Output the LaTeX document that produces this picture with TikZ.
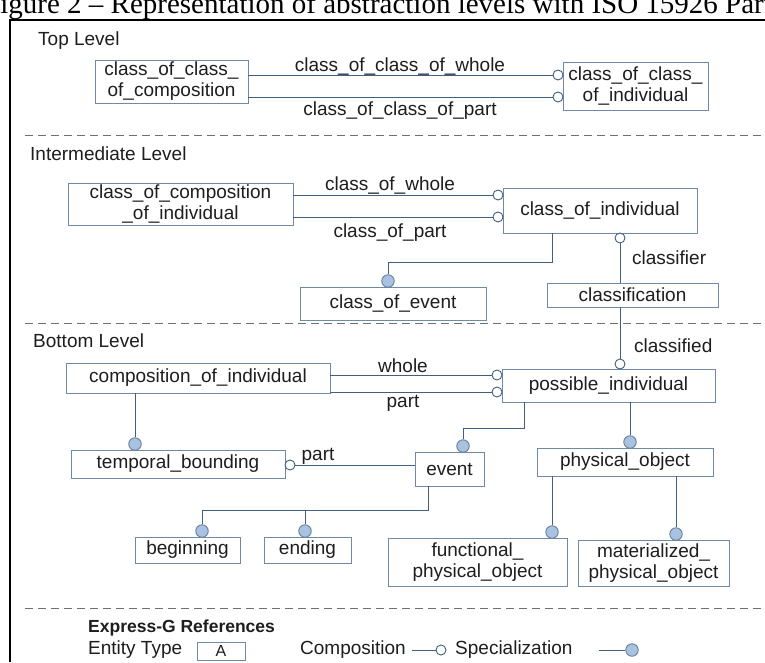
\documentclass[tikz,border=0pt]{standalone}
\usepackage{fontspec}
\setmainfont{Liberation Sans}
\newfontfamily\capfont{Liberation Serif}
\usetikzlibrary{calc}

\definecolor{boxc}{HTML}{6F8AA6}
\definecolor{linec}{HTML}{40607E}
\definecolor{specfill}{HTML}{A9C2E2}
\definecolor{txtc}{HTML}{1E1E1E}
\definecolor{dashc}{HTML}{707070}

\newcommand{\diagfont}{\fontsize{19}{21}\selectfont}

\tikzset{
  ent/.style={draw=boxc, line width=0.9pt, fill=white, inner sep=0pt,
    align=center, font=\diagfont, text=txtc},
  conn/.style={draw=linec, line width=1pt},
  comp/.style={circle, draw=linec, line width=0.9pt, fill=white,
    minimum size=10pt, inner sep=0pt},
  spec/.style={circle, draw=linec!80, line width=0.9pt, fill=specfill,
    minimum size=12.5pt, inner sep=0pt},
  lbl/.style={font=\diagfont, text=txtc, inner sep=0pt},
  level/.style={font=\diagfont, text=txtc, inner sep=0pt, anchor=west},
  sep/.style={draw=dashc, line width=1pt, dash pattern=on 8pt off 5pt},
}

\begin{document}
\begin{tikzpicture}[x=1pt, y=-1pt]
\useasboundingbox (0,0) rectangle (765,662);
\fill[white] (0,0) rectangle (765,662);

% caption above the frame
\node[anchor=base west, inner sep=0pt, font=\capfont\fontsize{29}{31}\selectfont]
  (caption) at (-16,13) {Figure 2 – Representation of abstraction levels with ISO 15926 Part};

% frame
\draw[black, line width=2pt] (765,20) -- (10,20) -- (10,662);

% level separators
\draw[sep] (25,135) -- (765,135);
\draw[sep] (25,323) -- (765,323);
\draw[sep] (25,608) -- (765,608);

% level titles
\node[level] (toplev) at (38,41) {Top Level};
\node[level] (midlev) at (30,154) {Intermediate Level};
\node[level] (botlev) at (33,341) {Bottom Level};

% ---------------- top level ----------------
\node[ent, minimum width=153pt, minimum height=43pt] (ccc) at (171.5,81.5)
  {class\_of\_class\_\\of\_composition};
\node[ent, minimum width=145pt, minimum height=48pt] (cci) at (635.5,86)
  {class\_of\_class\_\\of\_individual};
\node[comp] (tw) at (558,75) {};
\node[comp] (tp) at (558,97) {};
\draw[conn] (ccc.east |- tw) -- (tw);
\draw[conn] (ccc.east |- tp) -- (tp);
\node[lbl] (ltw) at (400,66) {class\_of\_class\_of\_whole};
\node[lbl] (ltp) at (400,111) {class\_of\_class\_of\_part};

% ---------------- intermediate level ----------------
\node[ent, minimum width=225pt, minimum height=42pt] (ccoi) at (180.5,204)
  {class\_of\_composition\\\_of\_individual};
\node[ent, minimum width=194pt, minimum height=45pt] (coi) at (600,210.5)
  {class\_of\_individual};
\node[ent, minimum width=186pt, minimum height=33pt] (coe) at (393,303.5)
  {class\_of\_event};
\node[ent, minimum width=171pt, minimum height=24pt] (cls) at (632.5,295)
  {classification};
\node[comp] (iw) at (498,195) {};
\node[comp] (ip) at (498,217) {};
\draw[conn] (ccoi.east |- iw) -- (iw);
\draw[conn] (ccoi.east |- ip) -- (ip);
\node[lbl] (liw) at (390,185) {class\_of\_whole};
\node[lbl] (lip) at (390,233) {class\_of\_part};

\node[spec] (sce) at (388,281) {};
\draw[conn] ([xshift=50pt]coi.south west) -- ++(0,29) -| (sce);

\node[comp] (cfr) at (620,238) {};
\draw[conn] (cfr) -- (cls.north -| cfr);
\node[lbl, anchor=west] (lcfr) at (632,258) {classifier};

% ---------------- bottom level ----------------
\node[ent, minimum width=264pt, minimum height=30pt] (cmpi) at (198,378)
  {composition\_of\_individual};
\node[ent, minimum width=213pt, minimum height=33pt] (posi) at (608.5,385.5)
  {possible\_individual};
\node[comp] (cfd) at (620,364) {};
\draw[conn] (cls.south -| cfd) -- (cfd);
\node[lbl, anchor=west] (lcfd) at (634,346) {classified};

\node[comp] (bw) at (497,375) {};
\node[comp] (bp) at (497,392) {};
\draw[conn] (cmpi.east |- bw) -- (bw);
\draw[conn] (cmpi.east |- bp) -- (bp);
\node[lbl] (lbw) at (403,366) {whole};
\node[lbl] (lbp) at (403,403) {part};

\node[ent, minimum width=214pt, minimum height=28pt] (tb) at (178,464)
  {temporal\_bounding};
\node[ent, minimum width=69pt, minimum height=34pt] (ev) at (449.5,469)
  {event};
\node[ent, minimum width=176pt, minimum height=28pt] (po) at (625,462)
  {physical\_object};

\node[spec] (stb) at (135,444) {};
\draw[conn] (cmpi.south -| stb) -- (stb);

\node[comp] (tbp) at (290,465) {};
\draw[conn] (ev.west |- tbp) -- (tbp);
\node[lbl] (ltbp) at (318,456) {part};

\node[spec] (sev) at (463,446) {};
\draw[conn] ([xshift=23pt]posi.south west) -- ++(0,26) -| (sev);

\node[spec] (spo) at (630,442) {};
\draw[conn] (posi.south -| spo) -- (spo);

\node[ent, minimum width=105pt, minimum height=26pt] (beg) at (187.5,550)
  {beginning};
\node[ent, minimum width=87pt, minimum height=26pt] (end) at (307.5,550)
  {ending};
\node[ent, minimum width=179pt, minimum height=48pt] (fpo) at (477.5,562)
  {functional\_\\physical\_object};
\node[ent, minimum width=151pt, minimum height=46pt] (mpo) at (653.5,563)
  {materialized\_\\physical\_object};

\node[spec] (sbeg) at (202,531) {};
\node[spec] (send) at (305,531) {};
\coordinate (evj) at (428,510);
\draw[conn] (ev.south -| evj) -- (evj) -| (sbeg);
\draw[conn] (evj -| send) -- (send);

\node[spec] (sfpo) at (552,532) {};
\node[spec] (smpo) at (676,534) {};
\draw[conn] (po.south -| sfpo) -- (sfpo);
\draw[conn] (po.south -| smpo) -- (smpo);

% ---------------- legend ----------------
\node[level, font=\bfseries\fontsize{17.5}{20}\selectfont] (lgt) at (88,628) {Express-G References};
\node[level] (lget) at (88,650) {Entity Type};
\node[ent, minimum width=48pt, minimum height=18pt, font=\fontsize{16}{18}\selectfont] (lga) at (221,651) {A};
\node[level] (lgc) at (300,650) {Composition};
\node[comp] (lgcc) at (441,650) {};
\draw[conn] (lgcc.west) -- ++(-24,0) coordinate (lgcl);
\node[level] (lgs) at (455,650) {Specialization};
\node[spec] (lgsc) at (632,650) {};
\draw[conn] (lgsc.west) -- ++(-26,0) coordinate (lgsl);
\end{tikzpicture}
\end{document}
